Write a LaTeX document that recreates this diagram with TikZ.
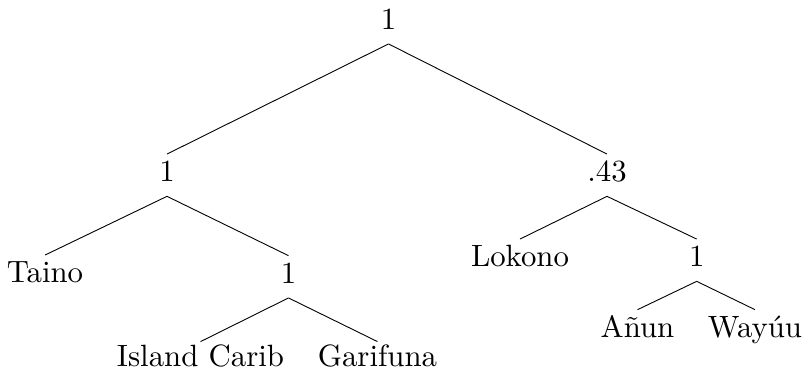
\documentclass[tikz,border=0pt]{standalone}
\begin{document}
\begin{tikzpicture}[x=0.32468pt, y=-0.32468pt, scale=3.08, transform shape]
  \tikzset{
    lbl/.style={inner sep=0pt, anchor=base, text height=8.77pt, text depth=4.55pt,
                font=\fontsize{10}{12}\selectfont},
    lowlbl/.style={lbl, text height=7.95pt, text depth=0.5pt},
    branch/.style={draw=black, line width=0.9pt}
  }
  \useasboundingbox (0,0) rectangle (804,371);

  % labels, placed on their baselines
  \node[lbl] (root)   at (388.5,29.3)  {1};
  \node[lbl] (left)   at (167,181.7)   {1};
  \node[lbl] (right)  at (607,181.7)   {.43};
  \node[lbl] (taino)  at (45,282.7)    {Taino};
  \node[lbl] (carib)  at (288.5,283.3) {1};
  \node[lbl] (lokono) at (520,266.7)   {Lokono};
  \node[lbl] (guaji)  at (696.7,266.7) {1};
  \node[lowlbl] (island)   at (200.5,366.7) {Island Carib};
  \node[lowlbl] (garifuna) at (377.5,366.7) {Garifuna};
  \node[lbl] (anun)  at (637.5,337.3) {Añun};
  \node[lbl] (wayuu) at (755,337.3)   {Wayúu};

  % branches
  \path[branch] (root.south) -- (left.north);
  \path[branch] (root.south) -- (right.north);
  \path[branch] (left.south) -- (taino.north);
  \path[branch] (left.south) -- (carib.north);
  \path[branch] (carib.south) -- (island.north);
  \path[branch] (carib.south) -- (garifuna.north);
  \path[branch] (right.south) -- (lokono.north);
  \path[branch] (right.south) -- (guaji.north);
  \path[branch] (guaji.south) -- (anun.north);
  \path[branch] (guaji.south) -- (wayuu.north);
\end{tikzpicture}
\end{document}
